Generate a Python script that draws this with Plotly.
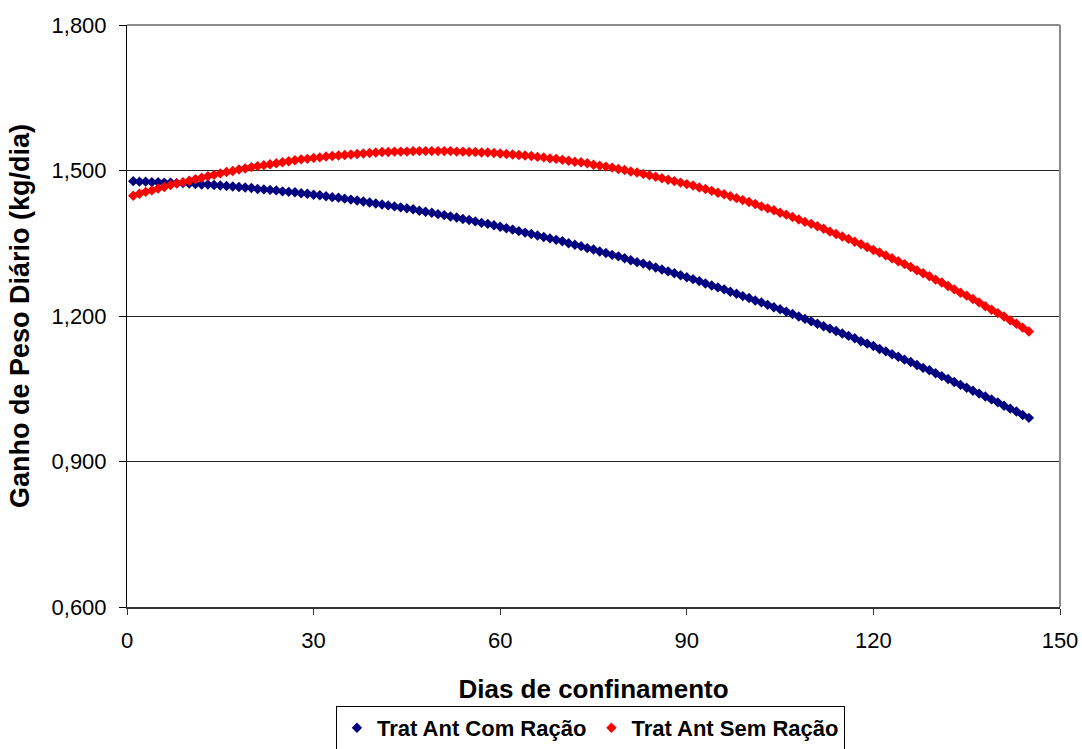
import plotly.graph_objects as go

# Days of feedlot confinement (1..145)
days = list(range(1, 146))

# Daily weight gain (kg/day), previous treatment with feed
com_racao = [1.478, 1.477, 1.477, 1.476, 1.476, 1.475, 1.475, 1.474, 1.474, 1.473,
             1.472, 1.471, 1.471, 1.470, 1.469, 1.468, 1.467, 1.466, 1.465, 1.464,
             1.462, 1.461, 1.460, 1.459, 1.457, 1.456, 1.455, 1.453, 1.452, 1.450,
             1.449, 1.447, 1.445, 1.444, 1.442, 1.440, 1.438, 1.436, 1.434, 1.432,
             1.430, 1.428, 1.426, 1.424, 1.422, 1.420, 1.417, 1.415, 1.413, 1.410,
             1.408, 1.405, 1.403, 1.400, 1.398, 1.395, 1.392, 1.390, 1.387, 1.384,
             1.381, 1.378, 1.375, 1.372, 1.369, 1.366, 1.363, 1.360, 1.357, 1.354,
             1.350, 1.347, 1.344, 1.340, 1.337, 1.333, 1.330, 1.326, 1.323, 1.319,
             1.315, 1.311, 1.308, 1.304, 1.300, 1.296, 1.292, 1.288, 1.284, 1.280,
             1.276, 1.272, 1.267, 1.263, 1.259, 1.255, 1.250, 1.246, 1.241, 1.237,
             1.232, 1.228, 1.223, 1.218, 1.214, 1.209, 1.204, 1.199, 1.194, 1.189,
             1.184, 1.179, 1.174, 1.169, 1.164, 1.159, 1.154, 1.148, 1.143, 1.138,
             1.132, 1.127, 1.121, 1.116, 1.110, 1.105, 1.099, 1.093, 1.088, 1.082,
             1.076, 1.070, 1.064, 1.058, 1.052, 1.046, 1.040, 1.034, 1.028, 1.022,
             1.015, 1.009, 1.003, 0.996, 0.990]

# Daily weight gain (kg/day), previous treatment without feed
sem_racao = [1.448, 1.452, 1.456, 1.459, 1.463, 1.466, 1.470, 1.473, 1.476, 1.479,
             1.482, 1.485, 1.488, 1.491, 1.494, 1.497, 1.499, 1.502, 1.504, 1.507,
             1.509, 1.511, 1.513, 1.515, 1.517, 1.519, 1.521, 1.523, 1.524, 1.526,
             1.527, 1.529, 1.530, 1.531, 1.532, 1.533, 1.534, 1.535, 1.536, 1.537,
             1.538, 1.538, 1.539, 1.539, 1.539, 1.540, 1.540, 1.540, 1.540, 1.540,
             1.540, 1.540, 1.539, 1.539, 1.538, 1.538, 1.537, 1.537, 1.536, 1.535,
             1.534, 1.533, 1.532, 1.531, 1.530, 1.528, 1.527, 1.525, 1.524, 1.522,
             1.520, 1.518, 1.517, 1.515, 1.512, 1.510, 1.508, 1.506, 1.503, 1.501,
             1.498, 1.496, 1.493, 1.490, 1.487, 1.484, 1.481, 1.478, 1.475, 1.472,
             1.469, 1.465, 1.462, 1.458, 1.454, 1.451, 1.447, 1.443, 1.439, 1.435,
             1.431, 1.426, 1.422, 1.418, 1.413, 1.409, 1.404, 1.399, 1.394, 1.390,
             1.385, 1.380, 1.374, 1.369, 1.364, 1.359, 1.353, 1.348, 1.342, 1.336,
             1.331, 1.325, 1.319, 1.313, 1.307, 1.301, 1.294, 1.288, 1.282, 1.275,
             1.269, 1.262, 1.255, 1.248, 1.242, 1.235, 1.228, 1.220, 1.213, 1.206,
             1.199, 1.191, 1.184, 1.176, 1.168]

x_ticks = [0, 30, 60, 90, 120, 150]
y_ticks = [0.6, 0.9, 1.2, 1.5, 1.8]

FONT = "Arial, Liberation Sans, sans-serif"

fig = go.Figure()
fig.add_trace(go.Scatter(
    x=days, y=com_racao, mode="markers", name="Trat Ant Com Ração",
    marker=dict(symbol="diamond", size=8, color="#000080", line=dict(width=0)),
))
fig.add_trace(go.Scatter(
    x=days, y=sem_racao, mode="markers", name="Trat Ant Sem Ração",
    marker=dict(symbol="diamond", size=8, color="#FF0000", line=dict(width=0)),
))

fig.update_layout(
    width=1082, height=749,
    margin=dict(l=127, r=22, t=25, b=142, autoexpand=False),
    paper_bgcolor="white", plot_bgcolor="white",
    separators=",.",
    font=dict(family=FONT, size=22, color="black"),
    showlegend=True,
    legend=dict(
        orientation="h",
        xref="container", x=0.5457, xanchor="center",
        yref="container", y=0.0574, yanchor="top",
        bordercolor="black", borderwidth=1,
        font=dict(family=FONT, size=22, weight="bold"),
        itemwidth=30, tracegroupgap=0,
    ),
)

fig.update_xaxes(
    range=[0, 150], tickvals=x_ticks, automargin=False,
    showgrid=False, zeroline=False,
    showline=True, linecolor="#333333", linewidth=2,
    ticks="outside", ticklen=6, tickcolor="#333333", tickwidth=1,
    ticklabelstandoff=7,
    tickfont=dict(family=FONT, size=22),
    title=dict(text="Dias de confinamento", standoff=27,
               font=dict(family=FONT, size=26, weight="bold")),
)
fig.update_yaxes(
    range=[0.6, 1.8], tickvals=y_ticks, tickformat=".3f", automargin=False,
    showgrid=True, gridcolor="#222222", gridwidth=1, zeroline=False,
    showline=True, linecolor="black", linewidth=1,
    ticks="outside", ticklen=7, tickcolor="black", tickwidth=1,
    ticklabelstandoff=8,
    tickfont=dict(family=FONT, size=22),
    title=dict(text="Ganho de Peso Diário (kg/dia)", standoff=14,
               font=dict(family=FONT, size=27, weight="bold")),
)

# Gray plot-area border on the top and right edges
fig.add_shape(type="line", xref="paper", yref="paper", x0=0, x1=1, y0=1, y1=1,
              line=dict(color="#8c8c8c", width=2), layer="above")
fig.add_shape(type="line", xref="paper", yref="paper", x0=1, x1=1, y0=0, y1=1,
              line=dict(color="#8c8c8c", width=2), layer="above")

fig.write_html("out.html")
